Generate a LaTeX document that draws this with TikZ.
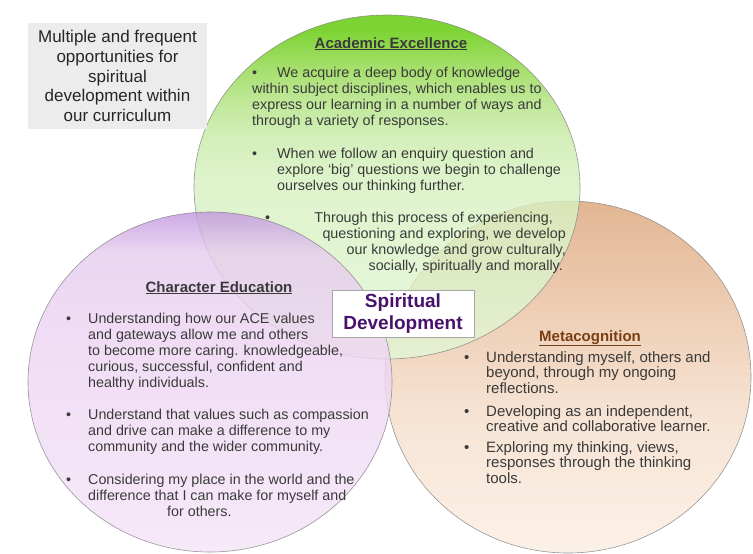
\documentclass[tikz,border=0pt]{standalone}
\usepackage{fontspec}
\setmainfont{Liberation Sans}
\usepackage{tikz}
\usetikzlibrary{shapes.geometric,positioning}

\definecolor{bodytext}{RGB}{58,58,58}
\definecolor{metabrown}{RGB}{122,62,20}
\definecolor{spiritpurple}{RGB}{72,18,108}
\definecolor{aceA}{RGB}{226,246,214}
\definecolor{aceB}{RGB}{214,241,191}
\definecolor{aceC}{RGB}{201,236,171}
\definecolor{aceD}{RGB}{176,226,126}
\definecolor{aceE}{RGB}{146,216,76}
\definecolor{aceF}{RGB}{92,201,0}
\definecolor{charA}{RGB}{244,228,247}
\definecolor{charB}{RGB}{237,212,242}
\definecolor{charC}{RGB}{230,204,239}
\definecolor{charD}{RGB}{194,150,222}
\definecolor{metaA}{RGB}{251,238,226}
\definecolor{metaB}{RGB}{245,221,201}
\definecolor{metaC}{RGB}{233,193,161}
\definecolor{metaD}{RGB}{219,164,119}

% vertical shadings, the shape covers 25bp..75bp
\pgfdeclareverticalshading{aceshade}{100bp}{color(0bp)=(aceA); color(25bp)=(aceA);
  color(51bp)=(aceB); color(57bp)=(aceC); color(62.5bp)=(aceD); color(67bp)=(aceE);
  color(73bp)=(aceF); color(100bp)=(aceF)}
\pgfdeclareverticalshading{charshade}{100bp}{color(0bp)=(charA); color(25bp)=(charA);
  color(57bp)=(charB); color(69bp)=(charC); color(75bp)=(charD); color(100bp)=(charD)}
\pgfdeclareverticalshading{metashade}{100bp}{color(0bp)=(metaA); color(25bp)=(metaA);
  color(45bp)=(metaB); color(60bp)=(metaC); color(75bp)=(metaD); color(100bp)=(metaD)}

\begin{document}
\begin{tikzpicture}[
    x=1pt, y=-1pt,
    bubble/.style={
		ellipse,
		inner sep=0pt,
		draw=black!50,
		line width=0.6pt,
		shade,
		fill opacity=0.8,
		draw opacity=0.8
	},
	heading/.style={
		font=\fontsize{15}{18}\selectfont\bfseries,
		text=bodytext,
		anchor=base,
		inner sep=0pt
	},
	bullettext/.style={
		font=\fontsize{14.3}{16}\selectfont,
		text=bodytext,
		align=left,
		anchor=north west,
		inner sep=0pt
	},
	bulletmark/.style={
		font=\fontsize{14.3}{16}\selectfont,
		text=bodytext,
		anchor=base west,
		inner sep=0pt
	}
  ]
  \useasboundingbox (0,0) rectangle (753,554);
  \fill [white] (0,0) rectangle (753,554);

    % the three circles first
  \node [bubble, shading=metashade, minimum width=366, minimum height=352] (meta) at (568,377) {};
  \node [bubble, shading=aceshade, minimum width=386, minimum height=344] (academic) at (387,187) {};
  \node [bubble, shading=charshade, minimum width=364, minimum height=340] (character) at (210,382) {};

    % grey note top left
  \node [fill=gray!15, minimum width=179, minimum height=106, align=center,
         font=\fontsize{17}{19.6}\selectfont, text=black!85] (note) at (117.5,76)
 {Multiple and frequent\\opportunities for\\spiritual\\development within\\our curriculum};

    % Academic Excellence
  \node [heading] (acehead) at (391,48) {\underline{Academic Excellence}};
  \node [bullettext] (ace1) at (252,67)
 {\makebox[25pt][l]{•}We acquire a deep body of knowledge\\
  within subject disciplines, which enables us to\\
  express our learning in a number of ways and\\
  through a variety of responses.};
  \node [bulletmark] (acedot2) at (252,158) {•};
  \node [bullettext] (ace2) at (277,148)
 {When we follow an enquiry question and\\
  explore ‘big’ questions we begin to challenge\\
  ourselves our thinking further.};
  \node [bulletmark] (acedot3) at (265,222) {•};
  \node [bullettext, align=right, anchor=north east] (ace3) at (566,212)
 {Through this process of experiencing,\hspace*{13pt}\\
  questioning and exploring, we develop\\
  our knowledge and grow culturally,\\
  socially, spiritually and morally.\hspace*{3pt}};

    % Character Education
  \node [heading] (charhead) at (219,292) {\underline{Character Education}};
  \node [bulletmark] (chardot1) at (66,323) {•};
  \node [bullettext] (char1) at (88,313)
 {Understanding how our ACE values\\
  and gateways allow me and others\\
  to become more caring. knowledgeable,\\
  curious, successful, confident and\\
  healthy individuals.};
  \node [bulletmark] (chardot2) at (66,419) {•};
  \node [bullettext] (char2) at (88,409)
 {Understand that values such as compassion\\
  and drive can make a difference to my\\
  community and the wider community.};
  \node [bulletmark] (chardot3) at (66,484) {•};
  \node [bullettext] (char3) at (88,474)
 {Considering my place in the world and the\\
  difference that I can make for myself and\\
  \hspace*{79pt}for others.};

    % Metacognition
  \node [heading, text=metabrown] (metahead) at (590,341) {\underline{Metacognition}};
  \node [bulletmark, font=\fontsize{15}{15.5}\selectfont] (metadot1) at (464,362) {•};
  \node [bullettext, font=\fontsize{15}{15.5}\selectfont] (meta1) at (486,351)
 {Understanding myself, others and\\
  beyond, through my ongoing\\
  reflections.};
  \node [bulletmark, font=\fontsize{15}{15.5}\selectfont] (metadot2) at (464,416) {•};
  \node [bullettext, font=\fontsize{15}{15.5}\selectfont] (meta2) at (486,405)
 {Developing as an independent,\\
  creative and collaborative learner.};
  \node [bulletmark, font=\fontsize{15}{15.5}\selectfont] (metadot3) at (464,452) {•};
  \node [bullettext, font=\fontsize{15}{15.5}\selectfont] (meta3) at (486,441)
 {Exploring my thinking, views,\\
  responses through the thinking\\
  tools.};

    % label in the middle
  \node [draw=gray!70, fill=white, minimum width=142, minimum height=47, align=center,
         font=\fontsize{19}{22}\selectfont\bfseries, text=spiritpurple] (spirit) at (403,313.5)
 {Spiritual\\Development};

\end{tikzpicture}
\end{document}
